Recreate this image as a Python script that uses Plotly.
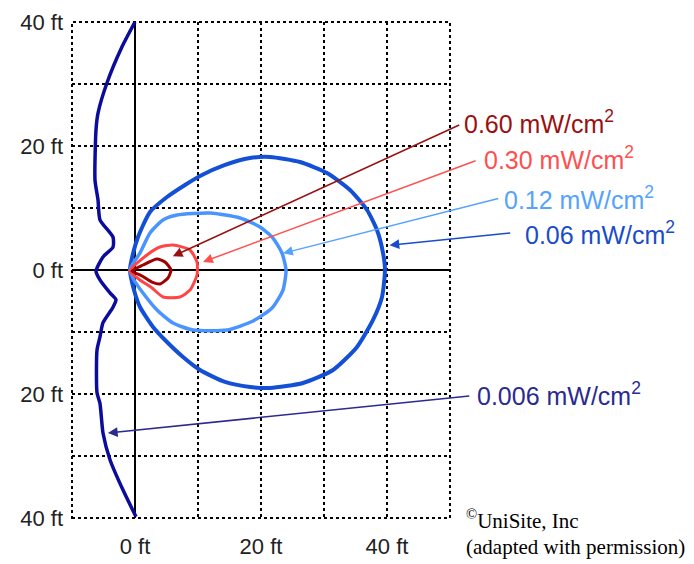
import plotly.graph_objects as go

# ---------------- data (ft) ----------------
levels = ["0.006", "0.06", "0.12", "0.30", "0.60"]

x_0006 = [0.0, -2.06, -4.44, -5.87, -6.19, -6.35, -5.87, -5.56, -3.49, -3.49, -5.08, -6.19,
          -5.56, -3.97, -3.02, -3.49, -5.08, -5.56, -6.03, -6.03, -5.56, -5.08, -3.97, -1.90, 0.16]
y_0006 = [40.0, 36.0, 30.2, 25.3, 22.6, 14.5, 11.3, 8.1, 5.3, 3.7, 2.1, -0.2,
          -1.6, -3.7, -4.8, -6.0, -8.5, -10.8, -12.9, -19.8, -21.5, -26.3, -30.6, -35.5, -39.8]

x_006 = [-0.79, -0.48, 0.48, 2.38, 5.08, 7.94, 10.32, 14.29, 18.25, 21.43, 26.19, 30.48, 34.13,
         36.83, 38.41, 39.37, 39.68, 39.21, 37.78, 35.24, 31.43, 26.67, 21.43, 18.25, 14.29,
         10.32, 7.62, 4.76, 2.86, 0.79, -0.16, -0.79]
y_006 = [0.0, 1.94, 5.32, 9.35, 11.77, 13.71, 15.16, 16.94, 18.06, 18.23, 17.42, 15.65, 12.90,
         9.68, 6.45, 2.74, 0.0, -4.35, -8.06, -12.42, -16.13, -18.23, -19.03, -18.87, -18.06,
         -16.13, -14.03, -11.29, -9.19, -5.97, -3.23, 0.0]

x_012 = [-0.79, -0.16, 0.79, 2.38, 4.44, 6.67, 11.90, 16.67, 19.84, 21.90, 23.33, 23.97, 23.49,
         21.75, 18.73, 14.60, 9.21, 6.03, 3.49, 1.27, -0.16, -0.79]
y_012 = [0.0, 1.29, 2.74, 5.97, 8.06, 8.87, 9.19, 8.39, 6.94, 5.16, 2.74, 0.0, -3.23,
         -6.13, -8.23, -9.68, -9.68, -8.55, -6.45, -3.71, -1.61, 0.0]

x_030 = [-0.79, 1.90, 3.97, 6.03, 8.73, 9.84, 9.84, 8.73, 7.14, 4.44, 2.70, 0.79, -0.79]
y_030 = [-0.16, 2.42, 3.71, 4.03, 3.23, 1.29, -0.81, -3.23, -4.35, -4.35, -2.90, -1.61, -0.16]

x_060 = [-0.48, 1.27, 3.49, 4.76, 5.71, 5.24, 3.97, 2.70, 1.11, -0.48]
y_060 = [-0.16, 0.81, 1.77, 1.29, 0.0, -1.29, -2.26, -1.94, -0.97, -0.16]

x_tick_vals = [0, 20, 40]
x_tick_text = ["0 ft", "20 ft", "40 ft"]
y_tick_vals = [40, 20, 0, -20, -40]
y_tick_text = ["40 ft", "20 ft", "0 ft", "20 ft", "40 ft"]

credit_lines = ["<sup>©</sup>UniSite, Inc", "(adapted with permission)"]

# ---------------- styles ----------------
X_RANGE = [-10, 50]
Y_RANGE = [-40, 40]
PAGE_OFFSET = 8  # default body margin of the html page

curve_colors = {"0.006": "#0c0c9c", "0.06": "#1450d6", "0.12": "#4a94ff",
                "0.30": "#ff4646", "0.60": "#a00000"}
text_colors = {"0.006": "#2a2a90", "0.06": "#1a4cc8", "0.12": "#55a2ff",
               "0.30": "#ff5050", "0.60": "#9a1010"}
curve_widths = {"0.006": 3.5, "0.06": 4, "0.12": 3.5, "0.30": 3, "0.60": 3}

curves = {"0.006": (x_0006, y_0006), "0.06": (x_006, y_006), "0.12": (x_012, y_012),
          "0.30": (x_030, y_030), "0.60": (x_060, y_060)}

# arrow geometry (ft): (head_x, head_y, tail_x, tail_y, text_x, text_y)
arrow_geom = {
    "0.60": (6.0, 2.2, 51.7, 23.5, 51.9, 23.8),
    "0.30": (10.8, 1.3, 54.3, 17.7, 55.0, 18.0),
    "0.12": (23.5, 2.7, 57.9, 11.6, 58.2, 11.6),
    "0.06": (40.4, 4.0, 59.8, 6.0, 61.6, 5.9),
    "0.006": (-4.3, -26.3, 53.3, -20.3, 53.9, -20.0),
}
credit_pos = [(52.2, -40.2), (52.2, -44.6)]


def px(v):
    return (v - X_RANGE[0]) / (X_RANGE[1] - X_RANGE[0])


def py(v):
    return (v - Y_RANGE[0]) / (Y_RANGE[1] - Y_RANGE[0])


fig = go.Figure()
for lv in levels:
    xs, ys = curves[lv]
    fig.add_trace(go.Scatter(x=xs, y=ys, mode="lines",
                             line=dict(color=curve_colors[lv], width=curve_widths[lv],
                                       shape="spline", smoothing=0.6),
                             hoverinfo="skip", showlegend=False))

annotations = []
for lv in levels:
    hx, hy, tx, ty, lx, ly = arrow_geom[lv]
    annotations.append(dict(x=hx, y=hy, ax=tx, ay=ty, xref="x", yref="y", axref="x", ayref="y",
                            text="", showarrow=True, arrowhead=2, arrowsize=1.3, arrowwidth=1.5,
                            arrowcolor=text_colors[lv], standoff=0, startstandoff=0))
    annotations.append(dict(x=px(lx), y=py(ly), xref="paper", yref="paper",
                            text=f"{lv} mW/cm<sup>2</sup>",
                            showarrow=False, xanchor="left", yanchor="middle",
                            font=dict(family="Liberation Sans, Arial", size=25, color=text_colors[lv])))

for (cx, cy), line in zip(credit_pos, credit_lines):
    annotations.append(dict(x=px(cx), y=py(cy), xref="paper", yref="paper", text=line,
                            showarrow=False, xanchor="left", yanchor="middle",
                            font=dict(family="Liberation Serif, Times New Roman", size=21, color="black")))

grid_style = dict(showgrid=True, gridcolor="black", gridwidth=2, griddash="dot")

fig.update_layout(
    width=694 - PAGE_OFFSET, height=564 - PAGE_OFFSET,
    margin=dict(l=72 - PAGE_OFFSET, r=244, t=22 - PAGE_OFFSET, b=46, autoexpand=False),
    paper_bgcolor="white", plot_bgcolor="white",
    showlegend=False,
    annotations=annotations,
    xaxis=dict(range=X_RANGE, tickvals=x_tick_vals, ticktext=x_tick_text, ticks="",
               zeroline=True, zerolinecolor="black", zerolinewidth=1.5, automargin=False,
               minor=dict(tickvals=[-10, 10, 30, 50], **grid_style),
               tickfont=dict(family="Liberation Sans, Arial", size=22, color="#222"),
               ticklabelstandoff=13, fixedrange=True, **grid_style),
    yaxis=dict(range=Y_RANGE, tickvals=y_tick_vals, ticktext=y_tick_text, ticks="",
               zeroline=True, zerolinecolor="black", zerolinewidth=1.5, automargin=False,
               minor=dict(tickvals=[-30, -10, 10, 30], **grid_style),
               tickfont=dict(family="Liberation Sans, Arial", size=22, color="#222"),
               ticklabelstandoff=8, fixedrange=True, **grid_style),
    shapes=[dict(type="rect", xref="paper", yref="paper", x0=0, y0=0, x1=1, y1=1,
                 line=dict(color="black", width=2, dash="dot"), layer="below")],
)

fig.write_html("out.html")
